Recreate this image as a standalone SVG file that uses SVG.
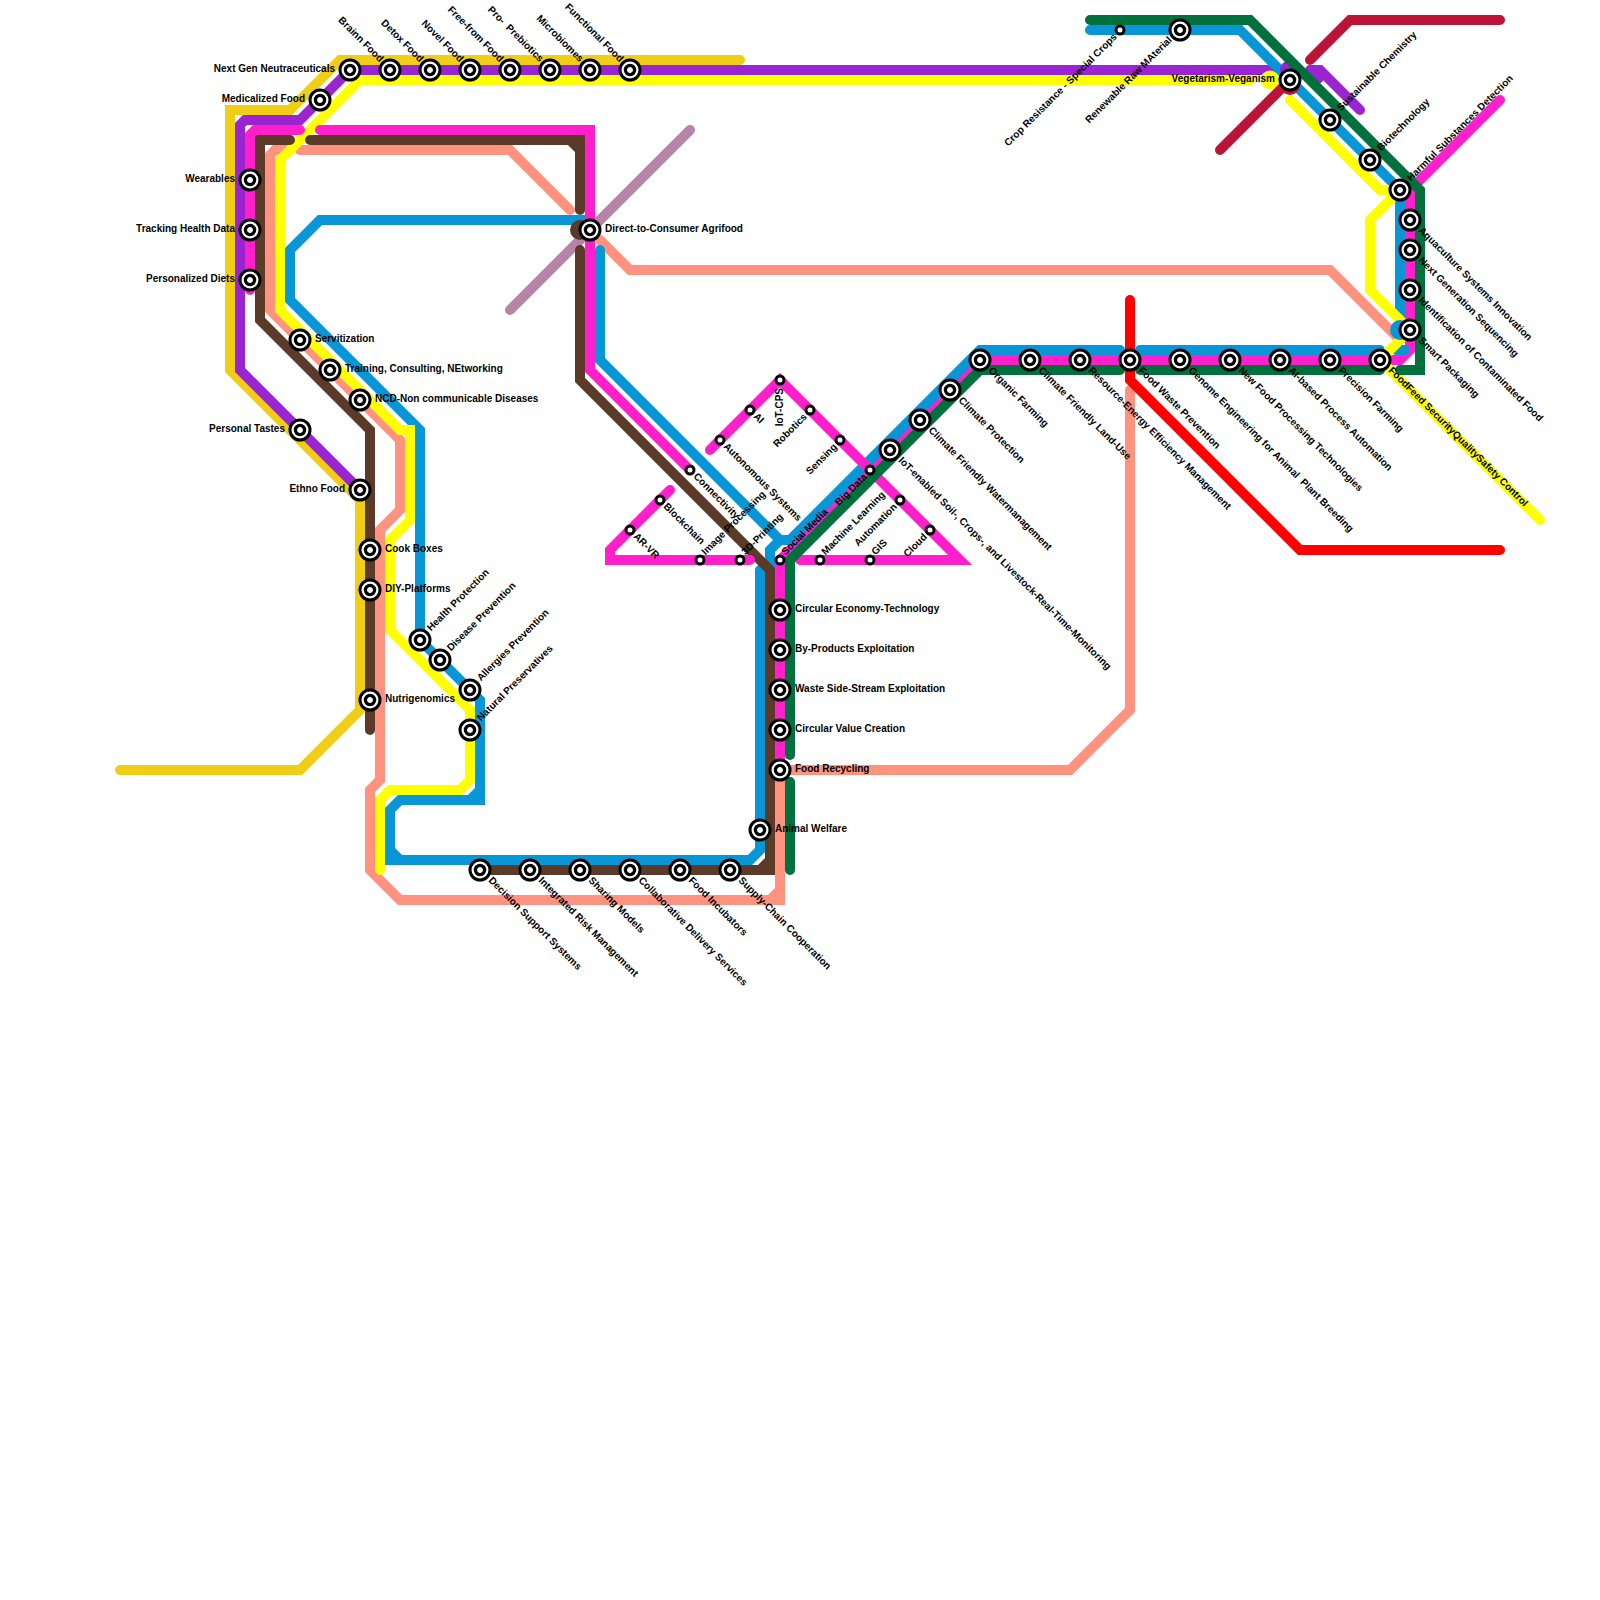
<svg xmlns="http://www.w3.org/2000/svg" xmlns:xlink="http://www.w3.org/1999/xlink" width="1600" height="1600" viewBox="0 0 1600 1600">
<style>
.l{fill:none;stroke-width:10;stroke-linecap:round;stroke-linejoin:miter}
.gold{stroke:#F0CE15}.pur{stroke:#9B24D1}.sal{stroke:#FF9380}.mau{stroke:#B784A7}.blu{stroke:#0896D7}.yel{stroke:#FFFF00}.bro{stroke:#5B3A29}.red{stroke:#FF0000}.mag{stroke:#FF20CC}.gre{stroke:#00703C}.cri{stroke:#BC1437}
.bp{fill:#0896D7}.pp{fill:#9B24D1}.yp{fill:#FFFF00}.cp{fill:#BC1437}.brp{fill:#5B3A29}
text{font-family:"Liberation Sans",Arial,sans-serif;font-size:10px;font-weight:bold;fill:#000}
.e{text-anchor:end}
</style>
<defs>
<g id="st"><circle r="10" fill="#fff" stroke="#000" stroke-width="3"/><circle r="4.6" fill="#fff" stroke="#000" stroke-width="3.3"/></g>
<circle id="sm" r="4" fill="#fff" stroke="#000" stroke-width="3"/>
</defs>
<g id="connectors">
<path class="l gold" d="M740 60H340L290 110H230V370L360 500V710L300 770H120"/>
<path class="l pur" d="M1275 70H350L300 120H245L240 125V370L360 490"/>
<path class="l pur" d="M1310 70H1320L1360 110"/>
<circle class="pp" cx="1315" cy="75" r="10"/>
<path class="l sal" d="M290 150H275L270 155V310L400 440V510L380 530V780L370 790V870L400 900H770L780 890V780"/>
<path class="l sal" d="M770 900H780V890"/>
<path class="l sal" d="M300 150H510L570 210"/>
<path class="l sal" d="M600 240L630 270H1330L1400 340"/>
<path class="l sal" d="M790 770H1070L1130 710V390"/>
<path class="l mau" d="M510 310L690 130"/>
<path class="l mag" d="M1500 100L1410 190V350L1400 360H980L780 560V770"/>
<path class="l blu" d="M600 250V360L780 540H790L980 350H1120"/>
<path class="l blu" d="M780 540L770 550V570"/>
<path class="l blu" d="M1140 350H1380"/>
<path class="l blu" d="M1396 350H1405"/>
<path class="l blu" d="M1090 30H1240L1400 190V325"/>
<path class="l blu" d="M760 570V850L750 860H400L390 850V810L400 800H470L480 790V700L420 640V430L290 300V250L320 220H585"/>
<path class="l blu" d="M390 850V860H400"/>
<path class="l blu" d="M470 800H480V790"/>
<path class="l yel" d="M1250 80H360L280 160V310L400 430H410V520L390 540V630L470 710V780L460 790H390L380 800V870"/>
<path class="l yel" d="M1290 100L1380 190H1400L1370 220V290L1410 330L1380 360L1540 520"/>
<circle class="yp" cx="1270" cy="80" r="9.5"/>
<circle class="pp" cx="1290" cy="70" r="10"/>
<circle class="bp" cx="1400" cy="330" r="10"/>
<circle class="brp" cx="580" cy="230" r="10"/>
<path class="l bro" d="M290 140H260V320L370 430V730"/>
<path class="l bro" d="M310 140H570L580 150V210"/>
<path class="l bro" d="M570 140H580V150"/>
<path class="l bro" d="M580 250V380L770 570V860L760 870H480"/>
<path class="l bro" d="M770 860V870H760"/>
<path class="l red" d="M1130 300V380L1300 550H1500"/>
<path class="l mag" d="M300 130H255L250 135V290"/>
<path class="l mag" d="M320 130H590V370L690 470"/>
<path class="l mag" d="M710 450L780 380L960 560H800"/>
<path class="l mag" d="M670 490L610 550V560H750"/>
<path class="l gre" d="M1090 20H1250L1420 190V370H1400"/>
<path class="l gre" d="M1380 370H1140"/>
<path class="l gre" d="M1120 370H980L790 560V755"/>
<path class="l gre" d="M790 782V870"/>
<path class="l cri" d="M1220 150L1290 80"/>
<circle class="cp" cx="1290" cy="85" r="10"/>
<path class="l cri" d="M1310 60L1350 20H1500"/>
</g>
<g id="n-next-gen"><use href="#st" x="350" y="70"/><text class="e" x="335" y="72">Next Gen Neutraceuticals</text></g>
<g id="n-medicalized"><use href="#st" x="320" y="100"/><text class="e" x="305" y="102">Medicalized Food</text></g>
<g id="n-wearables"><use href="#st" x="250" y="180"/><text class="e" x="235" y="182">Wearables</text></g>
<g id="n-tracking"><use href="#st" x="250" y="230"/><text class="e" x="235" y="232">Tracking Health Data</text></g>
<g id="n-personalized"><use href="#st" x="250" y="280"/><text class="e" x="235" y="282">Personalized Diets</text></g>
<g id="n-personal-tastes"><use href="#st" x="300" y="430"/><text class="e" x="285" y="432">Personal Tastes</text></g>
<g id="n-ethno"><use href="#st" x="360" y="490"/><text class="e" x="345" y="492">Ethno Food</text></g>
<g id="n-vegetarism"><use href="#st" x="1290" y="80"/><text class="e" x="1275" y="82">Vegetarism-Veganism</text></g>
<g id="n-servitization"><use href="#st" x="300" y="340"/><text x="315" y="342">Servitization</text></g>
<g id="n-training"><use href="#st" x="330" y="370"/><text x="345" y="372">Training, Consulting, NEtworking</text></g>
<g id="n-ncd"><use href="#st" x="360" y="400"/><text x="375" y="402">NCD-Non communicable Diseases</text></g>
<g id="n-cook"><use href="#st" x="370" y="550"/><text x="385" y="552">Cook Boxes</text></g>
<g id="n-diy"><use href="#st" x="370" y="590"/><text x="385" y="592">DIY-Platforms</text></g>
<g id="n-nutrigenomics"><use href="#st" x="370" y="700"/><text x="385" y="702">Nutrigenomics</text></g>
<g id="n-direct"><use href="#st" x="590" y="230"/><text x="605" y="232">Direct-to-Consumer Agrifood</text></g>
<g id="n-circ-econ"><use href="#st" x="780" y="610"/><text x="795" y="612">Circular Economy-Technology</text></g>
<g id="n-byproducts"><use href="#st" x="780" y="650"/><text x="795" y="652">By-Products Exploitation</text></g>
<g id="n-waste"><use href="#st" x="780" y="690"/><text x="795" y="692">Waste Side-Stream Exploitation</text></g>
<g id="n-circ-value"><use href="#st" x="780" y="730"/><text x="795" y="732">Circular Value Creation</text></g>
<g id="n-recycling"><use href="#st" x="780" y="770"/><text x="795" y="772">Food Recycling</text></g>
<g id="n-animal"><use href="#st" x="760" y="830"/><text x="775" y="832">Animal Welfare</text></g>
<g id="n-brainn"><use href="#st" x="390" y="70"/><text class="e" transform="translate(379.5 62.5) rotate(45)">Brainn Food</text></g>
<g id="n-detox"><use href="#st" x="430" y="70"/><text class="e" transform="translate(419.5 62.5) rotate(45)">Detox Food</text></g>
<g id="n-novel"><use href="#st" x="470" y="70"/><text class="e" transform="translate(459.5 62.5) rotate(45)">Novel Food</text></g>
<g id="n-free"><use href="#st" x="510" y="70"/><text class="e" transform="translate(499.5 62.5) rotate(45)">Free-from Food</text></g>
<g id="n-pro"><use href="#st" x="550" y="70"/><text class="e" transform="translate(539.5 62.5) rotate(45)">Pro-&#160; Prebiotics</text></g>
<g id="n-micro"><use href="#st" x="590" y="70"/><text class="e" transform="translate(579.5 62.5) rotate(45)">Microbiomes</text></g>
<g id="n-functional"><use href="#st" x="630" y="70"/><text class="e" transform="translate(619.5 62.5) rotate(45)">Functional Food</text></g>
<g id="n-health"><use href="#st" x="420" y="640"/><text transform="translate(431 631.5) rotate(-45)">Health Protection</text></g>
<g id="n-disease"><use href="#st" x="440" y="660"/><text transform="translate(451 651.5) rotate(-45)">Disease Prevention</text></g>
<g id="n-allergies"><use href="#st" x="470" y="690"/><text transform="translate(481 681.5) rotate(-45)">Allergies Prevention</text></g>
<g id="n-natural"><use href="#st" x="470" y="730"/><text transform="translate(481 721.5) rotate(-45)">Natural Preservatives</text></g>
<g id="n-sustainable"><use href="#st" x="1330" y="120"/><text transform="translate(1341 111.5) rotate(-45)">Sustainable Chemistry</text></g>
<g id="n-biotech"><use href="#st" x="1370" y="160"/><text transform="translate(1381 151.5) rotate(-45)">Biotechnology</text></g>
<g id="n-harmful"><use href="#st" x="1400" y="190"/><text transform="translate(1411 181.5) rotate(-45)">Harmful Substances Detection</text></g>
<g id="n-decision"><use href="#st" x="480" y="870"/><text transform="translate(488 881) rotate(45)">Decision Support Systems</text></g>
<g id="n-integrated"><use href="#st" x="530" y="870"/><text transform="translate(538 881) rotate(45)">Integrated Risk Management</text></g>
<g id="n-sharing"><use href="#st" x="580" y="870"/><text transform="translate(588 881) rotate(45)">Sharing Models</text></g>
<g id="n-collab"><use href="#st" x="630" y="870"/><text transform="translate(638 881) rotate(45)">Collaborative Delivery Services</text></g>
<g id="n-incubators"><use href="#st" x="680" y="870"/><text transform="translate(688 881) rotate(45)">Food Incubators</text></g>
<g id="n-supply"><use href="#st" x="730" y="870"/><text transform="translate(738 881) rotate(45)">Supply-Chain Cooperation</text></g>
<g id="n-iot-soil"><use href="#st" x="890" y="450"/><text transform="translate(898 461) rotate(45)">IoT-enabled Soil-, Crops-, and Livestock-Real-Time-Monitoring</text></g>
<g id="n-water"><use href="#st" x="920" y="420"/><text transform="translate(928 431) rotate(45)">Climate Friendly Watermanagement</text></g>
<g id="n-climate"><use href="#st" x="950" y="390"/><text transform="translate(958 401) rotate(45)">Climate Protection</text></g>
<g id="n-organic"><use href="#st" x="980" y="360"/><text transform="translate(988 371) rotate(45)">Organic Farming</text></g>
<g id="n-land"><use href="#st" x="1030" y="360"/><text transform="translate(1038 371) rotate(45)">Climate Friendly Land-Use</text></g>
<g id="n-resource"><use href="#st" x="1080" y="360"/><text transform="translate(1088 371) rotate(45)">Resource-Energy Efficiency Management</text></g>
<g id="n-foodwaste"><use href="#st" x="1130" y="360"/><text transform="translate(1138 371) rotate(45)">Food Waste Prevention</text></g>
<g id="n-genome"><use href="#st" x="1180" y="360"/><text transform="translate(1188 371) rotate(45)">Genome Engineering for Animal&#160; Plant Breeding</text></g>
<g id="n-newfood"><use href="#st" x="1230" y="360"/><text transform="translate(1238 371) rotate(45)">New Food Processing Technologies</text></g>
<g id="n-aibased"><use href="#st" x="1280" y="360"/><text transform="translate(1288 371) rotate(45)">AI-based Process Automation</text></g>
<g id="n-precision"><use href="#st" x="1330" y="360"/><text transform="translate(1338 371) rotate(45)">Precision Farming</text></g>
<g id="n-foodfeed"><use href="#st" x="1380" y="360"/><text transform="translate(1388 371) rotate(45)">FoodFeed SecurityQualitySafety Control</text></g>
<g id="n-smart"><use href="#st" x="1410" y="330"/><text transform="translate(1418 341) rotate(45)">Smart Packaging</text></g>
<g id="n-ident"><use href="#st" x="1410" y="290"/><text transform="translate(1418 301) rotate(45)">Identification of Contaminated Food</text></g>
<g id="n-ngs"><use href="#st" x="1410" y="250"/><text transform="translate(1418 261) rotate(45)">Next Generation Sequencing</text></g>
<g id="n-aqua"><use href="#st" x="1410" y="220"/><text transform="translate(1418 231) rotate(45)">Aquaculture Systems Innovation</text></g>
<g id="n-renewable"><use href="#st" x="1180" y="30"/><text class="e" transform="translate(1172.5 40.5) rotate(-45)">Renewable Raw MAterial</text></g>
<g id="n-crop"><use href="#sm" x="1120" y="30"/><text class="e" transform="translate(1117.5 37.5) rotate(-45)">Crop Resistance - Special Crops</text></g>
<g id="n-arvr"><use href="#sm" x="630" y="530"/><text transform="translate(633 537) rotate(45)">AR-VR</text></g>
<g id="n-blockchain"><use href="#sm" x="660" y="500"/><text transform="translate(663 507) rotate(45)">Blockchain</text></g>
<g id="n-connectivity"><use href="#sm" x="690" y="470"/><text transform="translate(693 477) rotate(45)">Connectivity</text></g>
<g id="n-autonomous"><use href="#sm" x="720" y="440"/><text transform="translate(723 447) rotate(45)">Autonomous Systems</text></g>
<g id="n-ai"><use href="#sm" x="750" y="410"/><text transform="translate(753 417) rotate(45)">AI</text></g>
<g id="n-image"><use href="#sm" x="700" y="560"/><text transform="translate(705.5 555.5) rotate(-45)">Image Processing</text></g>
<g id="n-3d"><use href="#sm" x="740" y="560"/><text transform="translate(745.5 555.5) rotate(-45)">3D-Printing</text></g>
<g id="n-social"><use href="#sm" x="780" y="560"/><text transform="translate(785.5 555.5) rotate(-45)">Social Media</text></g>
<g id="n-ml"><use href="#sm" x="820" y="560"/><text transform="translate(825.5 555.5) rotate(-45)">Machine Learning</text></g>
<g id="n-gis"><use href="#sm" x="870" y="560"/><text transform="translate(875.5 555.5) rotate(-45)">GIS</text></g>
<g id="n-robotics"><use href="#sm" x="810" y="410"/><text class="e" transform="translate(807.5 417.5) rotate(-45)">Robotics</text></g>
<g id="n-sensing"><use href="#sm" x="840" y="440"/><text class="e" transform="translate(837.5 447.5) rotate(-45)">Sensing</text></g>
<g id="n-bigdata"><use href="#sm" x="870" y="470"/><text class="e" transform="translate(867.5 477.5) rotate(-45)">Big Data</text></g>
<g id="n-automation"><use href="#sm" x="900" y="500"/><text class="e" transform="translate(897.5 507.5) rotate(-45)">Automation</text></g>
<g id="n-cloud"><use href="#sm" x="930" y="530"/><text class="e" transform="translate(927.5 537.5) rotate(-45)">Cloud</text></g>
<g id="n-iotcps"><use href="#sm" x="780" y="380"/><text class="e" transform="translate(783 388) rotate(-90)">IoT-CPS</text></g>
</svg>
